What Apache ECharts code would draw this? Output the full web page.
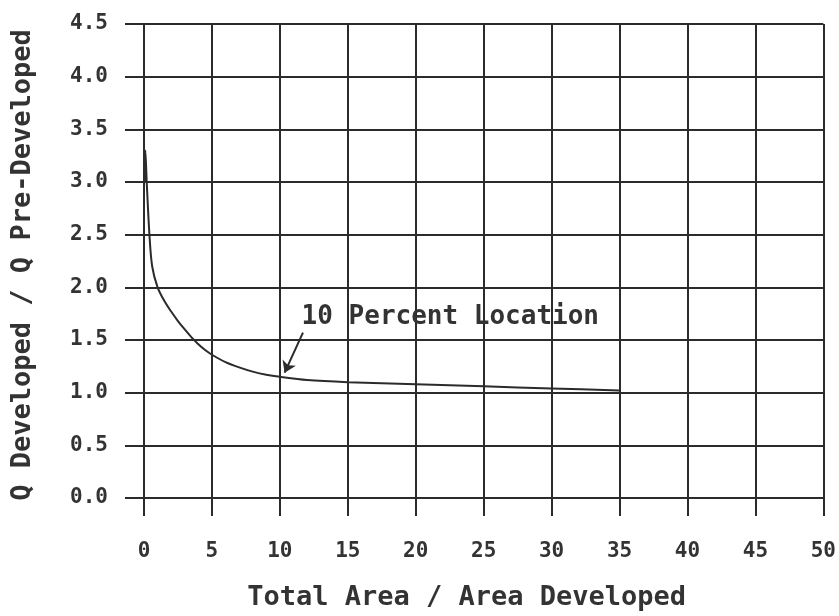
<!DOCTYPE html>
<html>
<head>
<meta charset="utf-8">
<style>
    html, body { margin: 0; padding: 0; background: #fff; }
    #chart { width: 839px; height: 616px; }
</style>
<script src="https://cdn.jsdelivr.net/npm/echarts@6/dist/echarts.min.js"></script>
</head>
<body>
<div id="chart"></div>
<script>
// 曲线数据 (Total Area / Area Developed, Q Developed / Q Pre-Developed)
var areaRatio = [0.05, 0.1, 0.2, 0.4, 0.6, 1.0, 1.5, 2.0, 2.5, 3.0, 3.5, 4.0, 4.5, 5.0, 6.0, 7.0, 8.0, 9.0, 10, 12, 15, 20, 25, 30, 35];
var flowRatio = [3.0, 3.3, 3.0, 2.5, 2.2, 2.0, 1.87, 1.77, 1.68, 1.6, 1.525, 1.46, 1.405, 1.36, 1.29, 1.24, 1.2, 1.17, 1.15, 1.12, 1.1, 1.08, 1.06, 1.04, 1.02];
var xTicks = [0, 5, 10, 15, 20, 25, 30, 35, 40, 45, 50];
var yTicks = ["0.0", "0.5", "1.0", "1.5", "2.0", "2.5", "3.0", "3.5", "4.0", "4.5"];

var ink = "#2b2b2b";
var textInk = "#333";
var font = "DejaVu Sans Mono";

(function () {
    var myChart = echarts.init(document.getElementById("chart"));
    var points = areaRatio.map(function (x, i) { return [x, flowRatio[i]]; });
    var option = {
        backgroundColor: "#fff",
        animation: false,
        grid: {
            left: 144,
            right: 10,
            top: 24,
            bottom: 117
        },
        xAxis: {
            type: "value",
            min: xTicks[0],
            max: xTicks[xTicks.length - 1],
            interval: 5,
            name: "Total Area / Area Developed",
            nameLocation: "middle",
            nameGap: 86,
            nameTextStyle: { color: textInk, fontFamily: font, fontSize: 27, fontWeight: "bold", padding: [0, 34, 0, 0] },
            axisLine: { lineStyle: { color: ink, width: 2 } },
            axisTick: { length: 18, lineStyle: { color: ink, width: 2 } },
            axisLabel: { color: textInk, fontFamily: font, fontSize: 21, fontWeight: "bold", margin: 43 },
            splitLine: { show: true, lineStyle: { color: ink, width: 2 } }
        },
        yAxis: {
            type: "value",
            min: 0,
            max: 4.5,
            interval: 0.5,
            name: "Q Developed / Q Pre-Developed",
            nameLocation: "middle",
            nameGap: 108,
            nameTextStyle: { color: textInk, fontFamily: font, fontSize: 27, fontWeight: "bold", padding: [0, 8, 0, 0] },
            axisLine: { show: true, lineStyle: { color: ink, width: 2 } },
            axisTick: { show: true, length: 19, lineStyle: { color: ink, width: 2 } },
            axisLabel: {
                color: textInk, fontFamily: font, fontSize: 21, fontWeight: "bold", margin: 36,
                formatter: function (v) { return yTicks[Math.round(v / 0.5)]; }
            },
            splitLine: { show: true, lineStyle: { color: ink, width: 2 } }
        },
        series: [
            {
                type: "line",
                data: points,
                showSymbol: false,
                smooth: 0.3,
                lineStyle: { color: ink, width: 2 },
                // 标注箭头
                markLine: {
                    silent: true,
                    symbol: ["none", "arrow"],
                    symbolSize: 11,
                    label: { show: false },
                    lineStyle: { color: ink, width: 2, type: "solid" },
                    data: [[{ coord: [11.7, 1.57] }, { coord: [10.35, 1.19] }]]
                },
                // 标注文字
                markPoint: {
                    silent: true,
                    symbolSize: 0,
                    label: {
                        show: true,
                        position: "right",
                        distance: 0,
                        color: textInk,
                        fontFamily: font,
                        fontSize: 26,
                        fontWeight: "bold",
                        formatter: "10 Percent Location"
                    },
                    data: [{ coord: [11.6, 1.72] }]
                }
            }
        ]
    };
    myChart.setOption(option);
})();
</script>
</body>
</html>
